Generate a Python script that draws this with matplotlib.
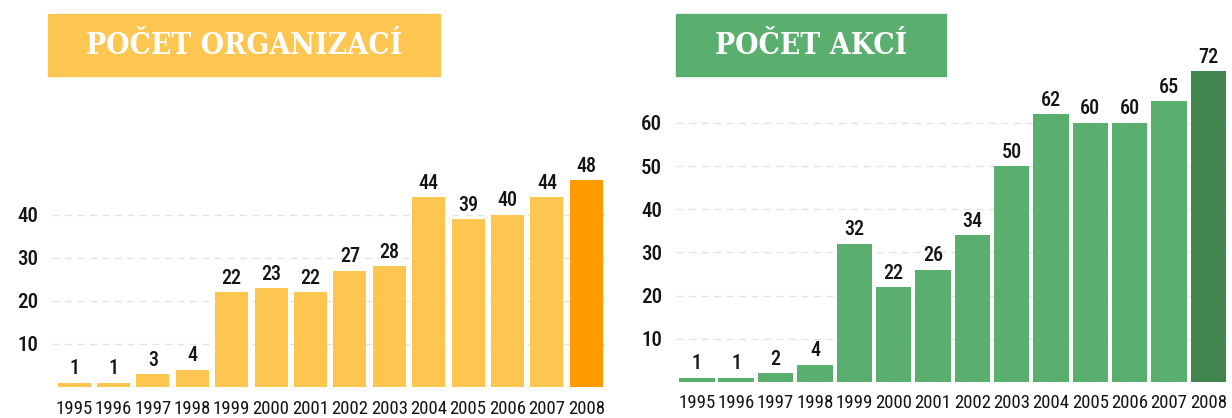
import matplotlib
matplotlib.use("Agg")
import matplotlib.pyplot as plt
from matplotlib.patches import Rectangle
from matplotlib import font_manager

years = ["1995", "1996", "1997", "1998", "1999", "2000", "2001",
         "2002", "2003", "2004", "2005", "2006", "2007", "2008"]
organizace = [1, 1, 3, 4, 22, 23, 22, 27, 28, 44, 39, 40, 44, 48]
akce = [1, 1, 2, 4, 32, 22, 26, 34, 50, 62, 60, 60, 65, 72]
title_left = "POČET ORGANIZACÍ"
title_right = "POČET AKCÍ"
ticks_left = [10, 20, 30, 40]
ticks_right = [10, 20, 30, 40, 50, 60]

names = {f.name for f in font_manager.fontManager.ttflist}
NARROW = "Roboto"
for cand in ["Roboto Condensed", "Open Sans Condensed", "Liberation Sans Narrow", "Roboto"]:
    if cand in names:
        NARROW = cand
        break

W, H = 1232, 418
fig = plt.figure(figsize=(W / 100, H / 100), dpi=100)

YMAX = 76
FONT = dict(family=NARROW)
TXT = "#141414"


def px_axes(x0, x1, ybot, ytop):
    return fig.add_axes([x0 / W, (H - ybot) / H, (x1 - x0) / W, (ybot - ytop) / H])


def panel(ax, values, ticks, color, last_color, width):
    x = list(range(len(values)))
    colors = [color] * (len(values) - 1) + [last_color]
    ax.bar(x, values, width=width, color=colors, zorder=2)
    for xi, v in zip(x, values):
        ax.text(xi, v + 1.0, str(v), ha="center", va="bottom",
                fontsize=14.5, color=TXT, fontweight="medium", **FONT)
    ax.set_ylim(0, YMAX)
    ax.set_xlim(-0.5 - (1 - width) / 2 + 0.02, len(values) - 0.5)
    ax.set_yticks(ticks)
    ax.set_yticklabels([str(t) for t in ticks], fontsize=15, color=TXT,
                       fontweight="medium", **FONT)
    ax.set_xticks(x)
    ax.set_xticklabels(years, fontsize=13.5, color=TXT, **FONT)
    ax.tick_params(axis="both", length=0)
    ax.tick_params(axis="x", pad=9)
    ax.tick_params(axis="y", pad=10)
    for s in ax.spines.values():
        s.set_visible(False)
    ax.grid(axis="y", linestyle=(0, (5, 4)), color="#e3e3e3", linewidth=1, zorder=0)
    ax.set_axisbelow(True)


# left panel
axL = px_axes(52, 606, 387, 387 - YMAX * 4.31)
panel(axL, organizace, ticks_left, "#FDC651", "#FF9A00", 0.84)

# right panel
axR = px_axes(676, 1228, 382, 382 - YMAX * 4.32)
panel(axR, akce, ticks_right, "#5BAF6E", "#43854F", 0.9)


# title boxes
def title_box(x0, x1, y0, y1, color, text):
    fig.patches.append(Rectangle((x0 / W, (H - y1) / H), (x1 - x0) / W, (y1 - y0) / H,
                                 transform=fig.transFigure, color=color, zorder=5))
    fig.text((x0 + x1) / 2 / W, (H - (y0 + y1) / 2) / H, text, ha="center", va="center",
             color="white", fontsize=21.5, fontweight="bold", family="DejaVu Serif",
             stretch="condensed", zorder=6)


title_box(48, 440, 14, 76, "#FDC651", title_left)
title_box(676, 946, 14, 76, "#5BAF6E", title_right)

fig.savefig("out.png", dpi=100)
